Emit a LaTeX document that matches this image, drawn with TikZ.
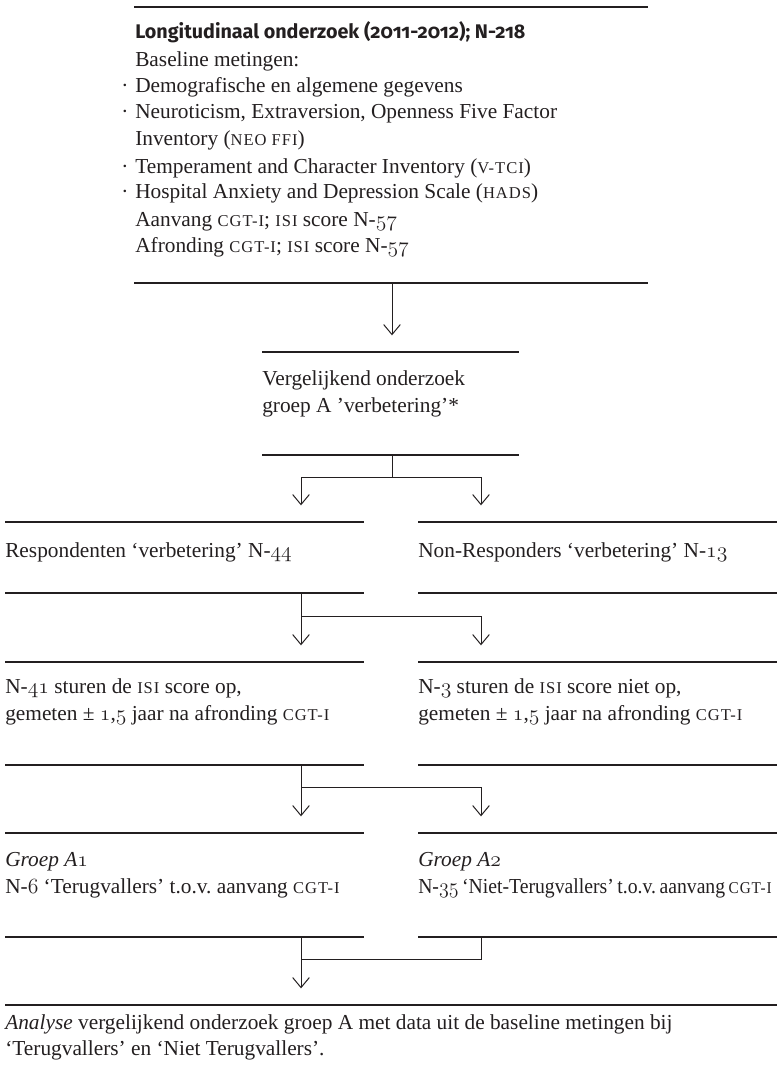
\documentclass[tikz,border=0pt]{standalone}
\usepackage{graphicx}
\usepackage{fontspec}
\setmainfont{Liberation Serif}
\newfontfamily\ttlfont{Fira Sans}[Numbers=OldStyle]
\usetikzlibrary{arrows.meta,fit}
\definecolor{ink}{RGB}{35,31,32}
\frenchspacing
\newcommand\osn[1]{\scalebox{0.94}{\usefont{OML}{cmm}{m}{it}\fontsize{17.28}{20}\selectfont#1}}
\newcommand\fsc[1]{{\fontsize{12.4}{14}\selectfont\addfontfeature{LetterSpace=6}\MakeUppercase{#1}}}
\newcommand\bodyfont{\fontsize{16}{19}\selectfont}
\begin{document}
\begin{tikzpicture}[x=0.75pt,y=-0.75pt,
  box/.style={rectangle, inner sep=0pt, outer sep=0pt, draw=none},
  rule/.style={draw=ink, line width=0.9pt},
  conn/.style={draw=ink, line width=0.75pt},
  arr/.style={conn, -{Straight Barb[length=7.5pt,width=12.5pt]}, shorten >=12.5pt},
  txt/.style={anchor=base west, inner sep=0pt, text=ink, font=\bodyfont},
  ttl/.style={txt, font={\ttlfont\bfseries\fontsize{14.8}{17}\selectfont}}]
\useasboundingbox (0,0) rectangle (777,1070);
% boxes
\node[box, fit={(134,7) (648,283)}] (base) {};
\node[box, fit={(262,352) (519,455)}] (verg) {};
\node[box, fit={(5,522) (364,593)}] (resp) {};
\node[box, fit={(418,522) (777,593)}] (nonr) {};
\node[box, fit={(5,662) (364,765)}] (n41) {};
\node[box, fit={(418,662) (777,765)}] (n3) {};
\node[box, fit={(5,833) (364,937)}] (a1) {};
\node[box, fit={(418,833) (777,937)}] (a2) {};
\node[box, fit={(5,1005) (777,1070)}] (anal) {};
% rules
\foreach \b in {base,verg,resp,nonr,n41,n3,a1,a2}{
  \draw[rule] (\b.north west) -- (\b.north east);
  \draw[rule] (\b.south west) -- (\b.south east);
}
\draw[rule] (anal.north west) -- (anal.north east);
% texts
\node[ttl] (t1) at (135,39) {Longitudinaal onderzoek (2011-2012); N-218};
\node[txt] (t2) at (135,67) {Baseline metingen:};
\node[txt] (b3) at (121,93) {·};
\node[txt] (t3) at (135,93) {Demografische en algemene gegevens};
\node[txt] (b4) at (121,119) {·};
\node[txt] (t4) at (135,119) {Neuroticism, Extraversion, Openness Five Factor};
\node[txt] (t5) at (135,146) {Inventory (\fsc{neo ffi})};
\node[txt] (b6) at (121,173) {·};
\node[txt] (t6) at (135,173) {Temperament and Character Inventory (\fsc{v-tci})};
\node[txt] (b7) at (121,199) {·};
\node[txt] (t7) at (135,199) {Hospital Anxiety and Depression Scale (\fsc{hads})};
\node[txt] (t8) at (135,226) {Aanvang \fsc{cgt-i}; \fsc{isi} score N-\osn{57}};
\node[txt] (t9) at (135,252) {Afronding \fsc{cgt-i}; \fsc{isi} score N-\osn{57}};
\node[txt] (v1) at (262,385.5) {Vergelijkend onderzoek};
\node[txt] (v2) at (262,412) {groep A ’verbetering’*};
\node[txt] (r1) at (5,557) {Respondenten ‘verbetering’ N-\osn{44}};
\node[txt] (nr1) at (418,557) {Non-Responders ‘verbetering’ N-\osn{13}};
\node[txt] (m1) at (5,693) {N-\osn{41} sturen de \fsc{isi} score op,};
\node[txt] (m2) at (5,720) {gemeten ± \osn{1},\osn{5} jaar na afronding \fsc{cgt-i}};
\node[txt] (m3) at (418,693) {N-\osn{3} sturen de \fsc{isi} score niet op,};
\node[txt] (m4) at (418,720) {gemeten ± \osn{1},\osn{5} jaar na afronding \fsc{cgt-i}};
\node[txt] (g1) at (5,866) {\textit{Groep A\osn{1}}};
\node[txt] (g2) at (5,893) {N-\osn{6} ‘Terugvallers’ t.o.v. aanvang \fsc{cgt-i}};
\node[txt] (g3) at (418,866) {\textit{Groep A\osn{2}}};
\node[txt] (g4) at (418,893) {\resizebox{265pt}{\height}{\spaceskip=0.18em\relax N-\osn{35} ‘Niet-Terugvallers’ t.o.v. aanvang \fsc{cgt-i}}};
\node[txt] (z1) at (5,1029) {\textit{Analyse} vergelijkend onderzoek groep A met data uit de baseline metingen bij};
\node[txt] (z2) at (5,1055) {‘Terugvallers’ en ‘Niet Terugvallers’.};
% connector helpers
\coordinate (xm) at (392,0);
\coordinate (xl) at (301,0);
\coordinate (xr) at (481,0);
\coordinate (h1) at (0,477);
\coordinate (h2) at (0,616);
\coordinate (h3) at (0,787);
\coordinate (h4) at (0,959);
% connectors
\draw[arr] (base.south -| xm) -- (verg.north -| xm);
\draw[arr] (verg.south -| xm) |- (h1 -| xl) -- (resp.north -| xl);
\draw[arr] (verg.south -| xm) |- (h1 -| xr) -- (nonr.north -| xr);
\draw[arr] (resp.south -| xl) -- (n41.north -| xl);
\draw[arr] (resp.south -| xl) |- (h2 -| xr) -- (n3.north -| xr);
\draw[arr] (n41.south -| xl) -- (a1.north -| xl);
\draw[arr] (n41.south -| xl) |- (h3 -| xr) -- (a2.north -| xr);
\draw[arr] (a1.south -| xl) -- (anal.north -| xl);
\draw[conn] (a2.south -| xr) |- (h4 -| xl);
\end{tikzpicture}
\end{document}
